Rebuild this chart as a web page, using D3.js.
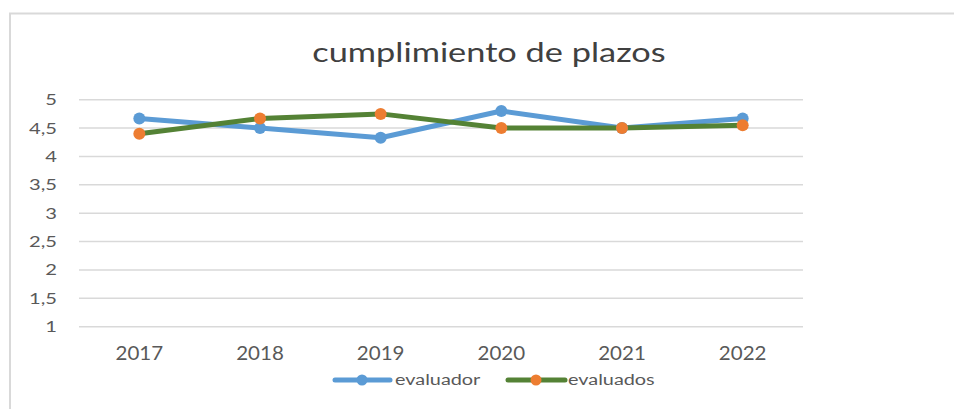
<!DOCTYPE html>
<html><head><meta charset="utf-8">
<script src="https://cdn.jsdelivr.net/npm/d3@7"></script>
<style>body{margin:0;background:#fff}svg{display:block}</style>
</head><body>
<script>
const years = ["2017","2018","2019","2020","2021","2022"];
const evaluador = [4.67, 4.5, 4.33, 4.8, 4.5, 4.67];
const evaluados = [4.4, 4.67, 4.75, 4.5, 4.5, 4.55];
const yTicks = [1,1.5,2,2.5,3,3.5,4,4.5,5];
const seriesNames = ["evaluador","evaluados"];

const W=954,H=409;
const svg=d3.select("body").append("svg").attr("width",W).attr("height",H);
const font="Lato, 'Open Sans', sans-serif";
function stretch(sel,k){
  sel.each(function(){const w=this.getComputedTextLength();
    d3.select(this).attr("textLength",w*k).attr("lengthAdjust","spacingAndGlyphs");});
}
// frame
svg.append("path").attr("d",`M10,${H+5} L10,13.5 L${W+5},13.5`).attr("fill","none").attr("stroke","#d9d9d9").attr("stroke-width",2);

const x=d3.scaleBand().domain(years).range([79,803]);
const y=d3.scaleLinear().domain([1,5]).range([326.7,99.7]);

// gridlines
svg.append("g").selectAll("line").data(yTicks).join("line")
  .attr("x1",79).attr("x2",803).attr("y1",d=>y(d)).attr("y2",d=>y(d))
  .attr("stroke","#d9d9d9").attr("stroke-width",1.5);

// y axis labels
const fmt=d=>String(d).replace(".",",");
const ya=svg.append("g").attr("transform","translate(59,0)").call(d3.axisLeft(y).tickValues(yTicks).tickFormat(fmt).tickSize(0).tickPadding(2));
ya.select(".domain").remove();
ya.selectAll("text").attr("font-family",font).attr("font-size",15.5).attr("fill","#595959").call(stretch,1.3);

// x axis labels
const xa=svg.append("g").attr("transform","translate(0,346.5)").call(d3.axisBottom(x).tickSize(0).tickPadding(0));
xa.select(".domain").remove();
xa.selectAll("text").attr("font-family",font).attr("font-size",19).attr("fill","#595959").attr("dy","0.71em").call(stretch,1.08);

// title
svg.append("text").attr("x",489).attr("y",62).attr("text-anchor","middle")
  .attr("font-family",font).attr("font-size",26).attr("fill","#404040").text("cumplimiento de plazos").call(stretch,1.32);

const cx=d=>x(d)+x.bandwidth()/2;
const series=[
  {name:seriesNames[0],vals:evaluador,line:"#5b9bd5",mark:"#5b9bd5"},
  {name:seriesNames[1],vals:evaluados,line:"#548235",mark:"#ed7d31"}
];
const line=d3.line().x((d,i)=>cx(years[i])).y(d=>y(d));
series.forEach(s=>{
  svg.append("path").attr("d",line(s.vals)).attr("fill","none").attr("stroke",s.line).attr("stroke-width",5).attr("stroke-linejoin","round");
});
series.forEach(s=>{
  svg.append("g").selectAll("circle").data(s.vals).join("circle")
    .attr("cx",(d,i)=>cx(years[i])).attr("cy",d=>y(d)).attr("r",6).attr("fill",s.mark);
});

// legend
const leg=[{x0:335,x1:390,mx:362,tx:395},{x0:508,x1:565,mx:536,tx:568}];
series.forEach((s,i)=>{
  const g=svg.append("g");
  const L=leg[i];
  g.append("line").attr("x1",L.x0).attr("x2",L.x1).attr("y1",380).attr("y2",380).attr("stroke",s.line).attr("stroke-width",5).attr("stroke-linecap","round");
  g.append("circle").attr("cx",L.mx).attr("cy",380).attr("r",5.5).attr("fill",s.mark);
  g.append("text").attr("x",L.tx).attr("y",380).attr("dy","0.35em").attr("font-family",font).attr("font-size",15.5).attr("fill","#595959").text(s.name).call(stretch,1.28);
});
</script>
</body></html>
